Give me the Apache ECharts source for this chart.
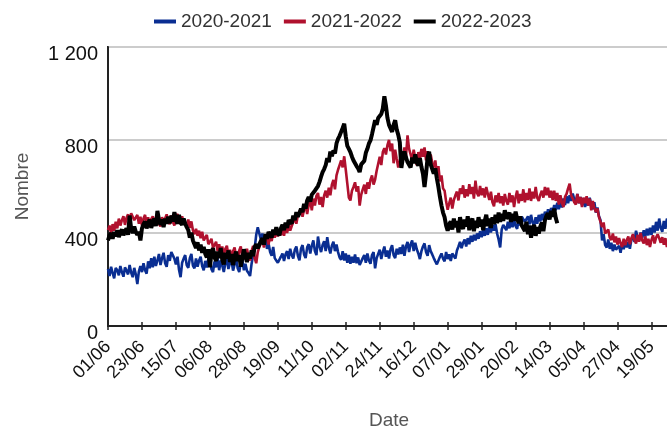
<!DOCTYPE html>
<html>
<head>
<meta charset="utf-8">
<script src="https://cdn.jsdelivr.net/npm/echarts@6/dist/echarts.min.js"></script>
<style>
  html, body { margin: 0; padding: 0; background: #fff; }
  #chart { width: 667px; height: 427px; }
</style>
</head>
<body>
<div id="chart"></div>
<script>
// daily counts, day 0 = 01/06
const serie2020 = [
  245, 215, 255, 228, 205, 250, 240, 218, 258, 232,
  212, 252, 238, 222, 262, 230, 210, 250, 222, 180,
  235, 258, 232, 270, 240, 225, 278, 248, 292, 252,
  298, 258, 282, 310, 262, 292, 315, 270, 255, 305,
  280, 318, 325, 290, 265, 298, 242, 210, 272, 290,
  305, 262, 250, 292, 310, 260, 248, 290, 255, 282,
  298, 258, 240, 280, 252, 288, 302, 245, 232, 278,
  252, 292, 240, 282, 260, 232, 270, 288, 245, 272,
  282, 238, 265, 292, 248, 232, 275, 285, 240, 268,
  238, 228, 215, 268, 305, 335, 392, 425, 398, 372,
  398, 352, 378, 332, 355, 318, 302, 340, 292, 282,
  272, 268, 298, 312, 280, 308, 322, 288, 332, 305,
  290, 328, 342, 302, 282, 332, 348, 308, 292, 338,
  352, 312, 345, 368, 322, 305, 385, 342, 318, 348,
  365, 322, 382, 338, 312, 345, 362, 322, 350, 318,
  295, 285, 322, 282, 312, 272, 305, 268, 298, 272,
  308, 270, 295, 262, 255, 292, 305, 272, 312, 282,
  268, 305, 318, 248, 292, 310, 328, 288, 318, 342,
  298, 325, 290, 330, 348, 305, 292, 332, 308, 338,
  310, 350, 302, 342, 362, 318, 352, 368, 322, 358,
  330, 312, 288, 322, 342, 355, 318, 302, 348, 322,
  308, 292, 278, 265, 258, 298, 312, 290, 278, 318,
  288, 308, 280, 312, 320, 290, 325, 342, 362, 335,
  358, 372, 342, 378, 352, 388, 362, 392, 368, 398,
  375, 408, 382, 412, 388, 420, 392, 428, 402, 435,
  410, 438, 398, 372, 338, 415, 435, 442, 412, 448,
  420, 452, 425, 458, 430, 418, 462, 432, 470, 478,
  448, 440, 472, 438, 478, 445, 432, 468, 440, 478,
  450, 482, 455, 492, 462, 502, 472, 508, 485, 520,
  498, 530, 502, 538, 510, 548, 520, 558, 528, 562,
  538, 570, 545, 532, 568, 528, 555, 520, 550, 512,
  545, 518, 552, 522, 502, 532, 488, 510, 472, 455,
  368, 395, 348, 338, 372, 332, 358, 322, 350, 328,
  320, 345, 315, 358, 330, 368, 338, 362, 332, 372,
  388, 362, 410, 382, 368, 402, 378, 412, 385, 418,
  390, 422, 392, 432, 402, 448, 410, 462, 422, 405,
  452, 418, 462, 430, 415
];

const serie2021 = [
  412, 432, 398, 438, 410, 448, 420, 462, 432, 455,
  472, 435, 465, 480, 442, 485, 490, 455, 448, 478,
  440, 470, 432, 462, 478, 438, 468, 430, 460, 472,
  435, 465, 478, 440, 428, 468, 445, 438, 480, 452,
  438, 475, 448, 432, 470, 482, 450, 440, 472, 445,
  452, 430, 458, 422, 450, 412, 395, 418, 388, 410,
  378, 405, 368, 380, 392, 352, 362, 375, 338, 348,
  362, 322, 352, 310, 342, 302, 332, 345, 298, 328,
  290, 322, 338, 295, 282, 325, 342, 292, 318, 288,
  332, 300, 282, 322, 345, 292, 270, 318, 340, 355,
  372, 338, 378, 388, 350, 392, 365, 402, 380, 408,
  385, 412, 390, 420, 388, 428, 400, 438, 410, 430,
  448, 462, 440, 478, 492, 505, 470, 502, 518, 482,
  522, 538, 498, 548, 518, 560, 572, 522, 555, 512,
  562, 582, 552, 595, 562, 608, 628, 588, 648, 672,
  692, 712, 682, 730, 672, 612, 552, 540, 582, 598,
  618, 578, 602, 518, 565, 588, 608, 568, 618, 590,
  628, 648, 608, 630, 668, 698, 728, 692, 748, 765,
  738, 778, 800, 752, 785, 700, 758, 718, 682, 712,
  748, 712, 768, 728, 820, 762, 738, 712, 758, 722,
  692, 748, 718, 762, 728, 768, 712, 752, 692, 738,
  702, 682, 712, 652, 688, 622, 648, 592, 582, 535,
  500, 528, 552, 505, 542, 562, 578, 540, 592, 568,
  605, 552, 588, 558, 610, 568, 598, 548, 625, 572,
  558, 602, 562, 592, 552, 598, 568, 542, 578, 532,
  515, 562, 532, 572, 528, 558, 518, 568, 538, 522,
  572, 532, 562, 512, 555, 582, 528, 568, 538, 588,
  532, 572, 542, 592, 538, 578, 548, 598, 552, 538,
  565, 582, 552, 598, 562, 595, 552, 582, 542, 582,
  538, 572, 522, 562, 530, 512, 555, 568, 592, 612,
  562, 548, 532, 522, 568, 528, 555, 512, 552, 528,
  558, 518, 548, 498, 538, 508, 490, 505, 468, 448,
  425, 445, 398, 390, 415, 380, 370, 398, 360, 385,
  350, 378, 355, 340, 375, 348, 370, 385, 352, 378,
  395, 370, 355, 392, 362, 400, 368, 355, 385, 348,
  375, 340, 370, 390, 355, 380, 395, 378, 358, 382,
  350, 378, 340, 372, 348
];

const serie2022 = [
  368, 390, 400, 375, 405, 385, 412, 382, 402, 415,
  390, 408, 420, 392, 475, 418, 400, 428, 405, 392,
  405, 368, 420, 438, 450, 420, 442, 458, 422, 445,
  462, 430, 495, 458, 435, 458, 425, 462, 440, 470,
  442, 475, 450, 490, 455, 440, 478, 445, 435, 462,
  440, 425, 412, 380, 402, 368, 362, 335, 360, 325,
  350, 315, 340, 310, 295, 330, 252, 315, 335, 295,
  280, 320, 292, 335, 285, 265, 315, 290, 325, 275,
  310, 262, 300, 320, 280, 305, 255, 292, 330, 300,
  275, 315, 290, 325, 300, 340, 352, 335, 342, 365,
  378, 350, 395, 375, 405, 410, 380, 415, 392, 425,
  400, 390, 420, 435, 412, 445, 422, 455, 462, 440,
  475, 455, 490, 470, 485, 505, 490, 525, 505, 540,
  555, 535, 565, 572, 582, 592, 602, 620, 642, 662,
  675, 692, 722, 705, 750, 730, 755, 742, 785, 805,
  818, 835, 852, 870, 815, 775, 762, 748, 728, 712,
  705, 688, 678, 662, 695, 702, 710, 745, 762, 785,
  798, 825, 855, 885, 865, 895, 900, 912, 935, 988,
  948, 895, 865, 862, 835, 865, 885, 845, 822, 790,
  680, 725, 750, 725, 705, 698, 682, 725, 700, 738,
  705, 690, 722, 685, 655, 598, 655, 725, 750, 695,
  688, 655, 678, 635, 598, 555, 518, 488, 468, 432,
  410, 438, 450, 415, 462, 425, 452, 402, 468, 432,
  418, 458, 428, 472, 412, 448, 462, 408, 452, 422,
  468, 428, 458, 412, 452, 478, 430, 462, 422, 468,
  438, 478, 442, 488, 448, 482, 452, 498, 462, 472,
  488, 448, 482, 452, 492, 462, 442, 472, 432, 425,
  408, 448, 395, 432, 380, 418, 435, 388, 425, 398,
  428, 445, 408, 455, 475, 485, 458, 495, 470, 505,
  465, 442
];

const seriesNames = ["2020-2021", "2021-2022", "2022-2023"];
const yTicks = [0, 400, 800, 1200];

// date labels dd/mm from 01/06 to 31/05
const dates = [];
for (let i = 0; i < 365; i++) {
  const d = new Date(Date.UTC(2021, 5, 1 + i));
  const dd = String(d.getUTCDate()).padStart(2, "0");
  const mm = String(d.getUTCMonth() + 1).padStart(2, "0");
  dates.push(dd + "/" + mm);
}

const myChart = echarts.init(document.getElementById("chart"));
const font = "Liberation Sans, Arial, sans-serif";

myChart.setOption({
  animation: false,
  textStyle: { fontFamily: font },
  legend: {
    top: 7,
    left: 149,
    itemWidth: 22,
    itemHeight: 4,
    itemGap: 12,
    icon: "rect",
    textStyle: { fontSize: 19, color: "#333", fontFamily: font },
    data: seriesNames
  },
  grid: {
    left: 108,
    right: -3,
    top: 47,
    bottom: 101,
    outerBoundsMode: "none",
    show: true,
    borderColor: "#222",
    borderWidth: 2
  },
  xAxis: [
    {
      type: "category",
      data: dates,
      boundaryGap: false,
      name: "Date",
      nameLocation: "middle",
      nameGap: 85,
      nameTextStyle: { fontSize: 19, color: "#555" },
      axisLine: { lineStyle: { color: "#222", width: 2 } },
      axisTick: { interval: 21, length: 4, lineStyle: { color: "#222", width: 1.5 } },
      axisLabel: { interval: 21, rotate: 45, fontSize: 18, color: "#111", margin: 18 },
      splitLine: { show: false }
    },
    {
      // inner half of the crossing ticks
      type: "category",
      data: dates,
      boundaryGap: false,
      position: "bottom",
      axisLine: { show: false },
      axisTick: { inside: true, interval: 21, length: 4, lineStyle: { color: "#222", width: 1.5 } },
      axisLabel: { show: false },
      splitLine: { show: false }
    }
  ],
  yAxis: {
    type: "value",
    min: yTicks[0],
    max: yTicks[yTicks.length - 1],
    interval: 400,
    name: "Nombre",
    nameLocation: "middle",
    nameGap: 76,
    nameTextStyle: { fontSize: 19, color: "#555" },
    axisLine: { show: true, lineStyle: { color: "#222", width: 2 } },
    axisTick: { show: false },
    axisLabel: {
      fontSize: 20,
      color: "#111",
      margin: 10,
      verticalAlign: "top",
      lineHeight: 14,
      formatter: (v) => String(v).replace(/\B(?=(\d{3})+(?!\d))/g, " ")
    },
    splitLine: { lineStyle: { color: "#ccc", width: 2 } }
  },
  series: [
    {
      name: seriesNames[0],
      type: "line",
      data: serie2020,
      showSymbol: false,
      color: "#0a2e92",
      lineStyle: { width: 2.6 }
    },
    {
      name: seriesNames[1],
      type: "line",
      data: serie2021,
      showSymbol: false,
      color: "#b0112e",
      lineStyle: { width: 2.6 }
    },
    {
      name: seriesNames[2],
      type: "line",
      data: serie2022,
      showSymbol: false,
      color: "#000000",
      lineStyle: { width: 4 }
    }
  ]
});
</script>
</body>
</html>
